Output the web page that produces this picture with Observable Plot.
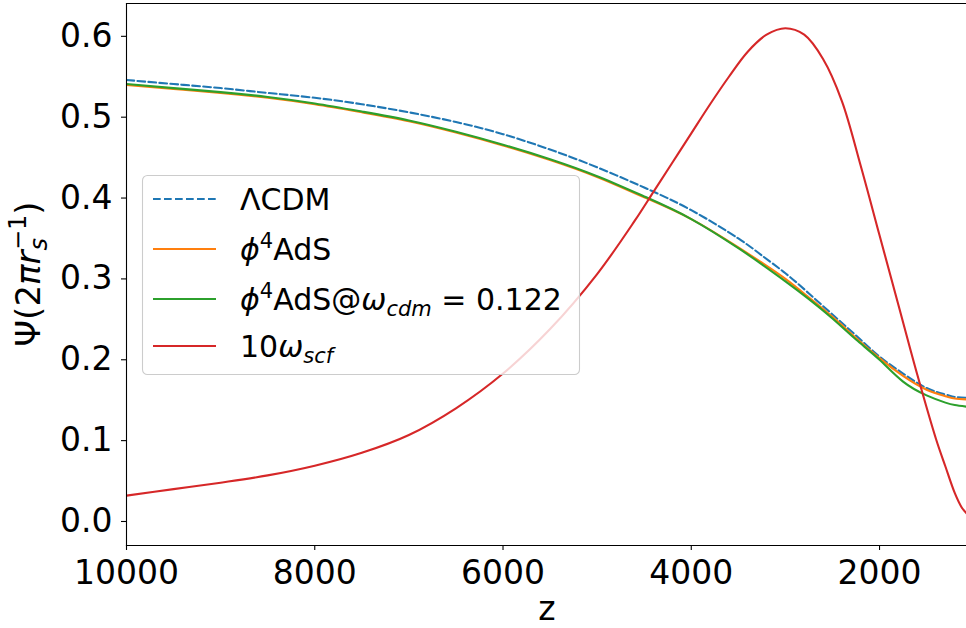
<!DOCTYPE html>
<html><head><meta charset="utf-8">
<script src="https://cdn.jsdelivr.net/npm/d3@7"></script>
<script src="https://cdn.jsdelivr.net/npm/@observablehq/plot@0.6"></script>
<style>html,body{margin:0;padding:0;background:#fff;} #chart{width:966px;height:628px;}</style>
</head><body><div id="chart"></div>
<script>
// ---- data ----
const zGrid = [10000, 9500, 9000, 8500, 8000, 7500, 7000, 6500, 6000, 5500, 5000, 4500, 4000, 3500, 3250, 3000, 2750, 2500, 2250, 2000, 1750, 1500, 1300, 1200, 1076];
const lcdm        = [0.546, 0.541, 0.536, 0.530, 0.524, 0.516, 0.506, 0.494, 0.479, 0.460, 0.438, 0.413, 0.385, 0.350, 0.329, 0.307, 0.282, 0.256, 0.230, 0.204, 0.183, 0.165, 0.157, 0.154, 0.153];
const phi4AdS     = [0.540, 0.535, 0.530, 0.524, 0.516, 0.506, 0.495, 0.481, 0.465, 0.447, 0.426, 0.401, 0.374, 0.339, 0.320, 0.300, 0.277, 0.253, 0.227, 0.202, 0.180, 0.163, 0.155, 0.152, 0.151];
const phi4AdSFix  = [0.541, 0.536, 0.531, 0.525, 0.517, 0.507, 0.496, 0.482, 0.466, 0.448, 0.427, 0.402, 0.374, 0.338, 0.318, 0.297, 0.275, 0.251, 0.225, 0.200, 0.173, 0.156, 0.147, 0.144, 0.142];
const zScf   = [10000, 9500, 9000, 8500, 8000, 7500, 7000, 6500, 6000, 5500, 5000, 4600, 4400, 4200, 4000, 3800, 3600, 3400, 3200, 3000, 2800, 2600, 2400, 2200, 2000, 1800, 1600, 1400, 1300, 1200, 1130, 1076];
const scf10  = [0.032, 0.040, 0.048, 0.057, 0.069, 0.085, 0.107, 0.140, 0.183, 0.238, 0.306, 0.372, 0.408, 0.444, 0.480, 0.516, 0.550, 0.581, 0.602, 0.610, 0.602, 0.572, 0.520, 0.440, 0.354, 0.268, 0.182, 0.102, 0.068, 0.035, 0.018, 0.010];
const xTicks = [10000, 8000, 6000, 4000, 2000];
const yTicks = [0, 0.1, 0.2, 0.3, 0.4, 0.5, 0.6];
const colors = ["#1f77b4", "#ff7f0e", "#2ca02c", "#d62728"];

const toRows = (zs, vs) => zs.map((z, i) => ({z, v: vs[i]}));
const FONT = "DejaVu Sans";

const plot = Plot.plot({
  width: 966, height: 628,
  marginLeft: 126, marginRight: 0, marginTop: 3, marginBottom: 83,
  style: {fontFamily: FONT, fontSize: "33px", color: "black", background: "white", overflow: "visible"},
  x: {domain: [10000, 1076]},
  y: {domain: [-0.0297, 0.6406]},
  marks: [
    Plot.line(toRows(zGrid, lcdm), {x: "z", y: "v", stroke: colors[0], strokeWidth: 2.1, strokeDasharray: "7.7,3.3", curve: "natural", clip: true}),
    Plot.line(toRows(zGrid, phi4AdS), {x: "z", y: "v", stroke: colors[1], strokeWidth: 2.1, curve: "natural", clip: true}),
    Plot.line(toRows(zGrid, phi4AdSFix), {x: "z", y: "v", stroke: colors[2], strokeWidth: 2.1, curve: "natural", clip: true}),
    Plot.line(toRows(zScf, scf10), {x: "z", y: "v", stroke: colors[3], strokeWidth: 2.1, curve: "catmull-rom", clip: true}),
    Plot.axisX({ticks: xTicks, tickFormat: d => String(d), tickSize: 5, tickPadding: 10, label: null, fontSize: 33, strokeWidth: 1.1}),
    Plot.axisY({ticks: yTicks, tickFormat: d3.format(".1f"), tickSize: 5, tickPadding: 9, label: null, fontSize: 33, strokeWidth: 1.1}),
    Plot.frame({anchor: "left", stroke: "black", strokeWidth: 1.1}),
    Plot.frame({anchor: "top", stroke: "black", strokeWidth: 1.1}),
    Plot.frame({anchor: "bottom", stroke: "black", strokeWidth: 1.1})
  ]
});
document.getElementById("chart").appendChild(plot);

const svg = d3.select(plot);

// x label
svg.append("text").attr("x", 547).attr("y", 620).attr("text-anchor", "middle")
  .attr("font-family", FONT).attr("font-size", 33).attr("fill", "black").text("z");

// y label  Ψ(2π r_s^{-1})
const yl = svg.append("text").attr("transform", "translate(40,274) rotate(-90)")
  .attr("text-anchor", "middle").attr("font-family", FONT).attr("font-size", 34).attr("fill", "black");
yl.append("tspan").text("Ψ(2");
yl.append("tspan").attr("font-style", "italic").text("πr");
yl.append("tspan").attr("font-style", "italic").attr("font-size", 24).attr("dy", 7).text("s");
yl.append("tspan").attr("font-size", 24).attr("dx", -12).attr("dy", -21).text("−1");
yl.append("tspan").attr("dy", 14).text(")");

// legend
const lg = svg.append("g").attr("font-family", FONT).attr("font-size", 30).attr("fill", "black").attr("text-anchor", "start");
lg.append("rect").attr("x", 142.5).attr("y", 175.5).attr("width", 437).attr("height", 199).attr("rx", 5)
  .attr("fill", "white").attr("fill-opacity", 0.8).attr("stroke", "#cccccc").attr("stroke-width", 1.1);
const rowsY = [199, 249, 299, 346];
const dashes = ["7.7,3.3", null, null, null];
rowsY.forEach((y, i) => {
  const ln = lg.append("line").attr("x1", 153).attr("x2", 216).attr("y1", y).attr("y2", y)
    .attr("stroke", colors[i]).attr("stroke-width", 2.1);
  if (dashes[i]) ln.attr("stroke-dasharray", dashes[i]);
});
const mk = (i) => lg.append("text").attr("x", 240).attr("y", rowsY[i] + 11).attr("text-anchor", "start");
const t0 = mk(0);
t0.append("tspan").text("ΛCDM");
const t1 = mk(1);
t1.append("tspan").attr("font-style", "italic").text("ϕ");
t1.append("tspan").attr("font-size", 21).attr("dy", -12).text("4");
t1.append("tspan").attr("dy", 12).text("AdS");
const t2 = mk(2);
t2.append("tspan").attr("font-style", "italic").text("ϕ");
t2.append("tspan").attr("font-size", 21).attr("dy", -12).text("4");
t2.append("tspan").attr("dy", 12).text("AdS@");
t2.append("tspan").attr("font-style", "italic").text("ω");
t2.append("tspan").attr("font-style", "italic").attr("font-size", 21).attr("dy", 6).text("cdm");
t2.append("tspan").attr("dy", -6).text(" = 0.122");
const t3 = mk(3);
t3.append("tspan").text("10");
t3.append("tspan").attr("font-style", "italic").text("ω");
t3.append("tspan").attr("font-style", "italic").attr("font-size", 21).attr("dy", 6).text("scf");
</script>
</body></html>
